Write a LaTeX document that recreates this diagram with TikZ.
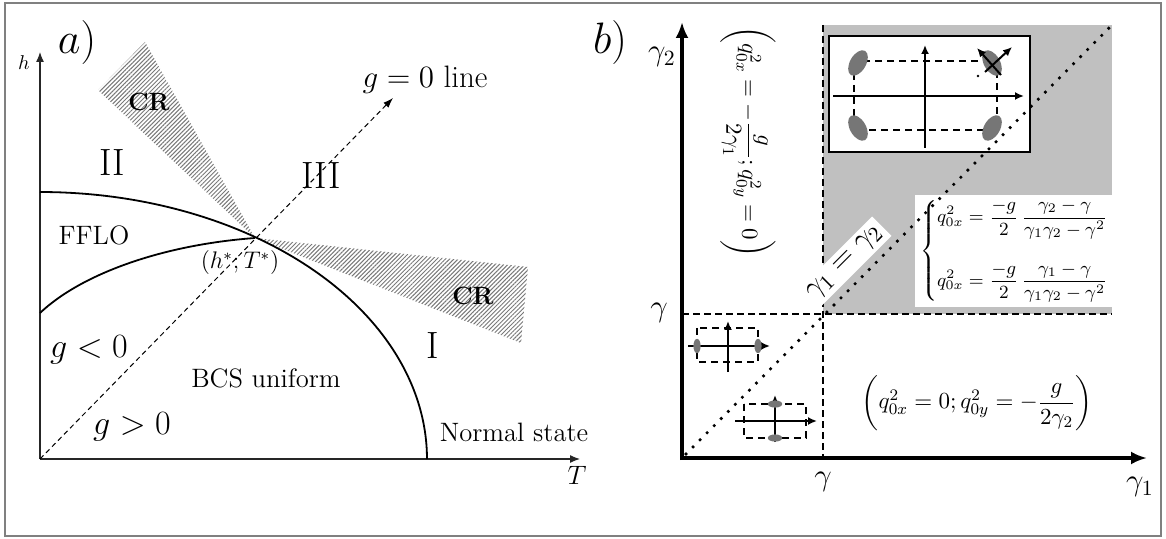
\RequirePackage{fix-cm}
\documentclass[tikz,border=0pt]{standalone}
\definecolor{framegray}{RGB}{128,128,128}
\definecolor{shadegray}{RGB}{192,192,192}
\definecolor{spotgray}{RGB}{118,118,118}
\definecolor{hatchgray}{RGB}{120,120,120}
\usepackage{amsmath,amssymb}
\usepackage{tikz}
\usetikzlibrary{arrows.meta,patterns.meta}

\begin{document}
\begin{tikzpicture}[x=0.5pt, y=-0.5pt,
    axl/.style={-{Latex[length=5pt,width=4pt]}, line width=0.6pt, black!85},
    axr/.style={-{Latex[length=8pt,width=6.5pt]}, line width=2pt},
    bound/.style={line width=0.9pt},
    guide/.style={line width=0.5pt, dash pattern=on 2.5pt off 1.8pt},
    guideR/.style={line width=0.7pt, dash pattern=on 3.5pt off 2pt},
    crwedge/.style={pattern={Lines[angle=45,distance=1.5pt,line width=0.5pt]}, pattern color=hatchgray},
    lab/.style={font=\fontsize{13.3}{16}\selectfont},
    roman/.style={font=\fontsize{19}{22}\selectfont},
    crlab/.style={font=\fontsize{12.5}{15}\selectfont\bfseries},
    glab/.style={font=\fontsize{17}{20}\selectfont},
    panel/.style={font=\fontsize{22}{26}\selectfont},
    glab2/.style={font=\fontsize{15.5}{18}\selectfont},
    formula/.style={font=\fontsize{11.5}{14}\selectfont},
    insax/.style={-{Latex[length=4.5pt,width=4pt]}, line width=1.3pt},
    insbox/.style={line width=0.9pt, dash pattern=on 3.5pt off 2.5pt},
    spot/.style={fill=spotgray},
  ]
    \useasboundingbox (0,0) rectangle (1166,539);
    \draw[framegray, line width=1pt] (5,3) rectangle (1161,536);

    % a) phase diagram
    \coordinate (O) at (40,459);
    \coordinate (tc) at (255,238);
    \fill[crwedge] (tc) -- (98,90) -- (145,42) -- cycle;
    \fill[crwedge] (tc) -- (528,267) -- (521,343) -- cycle;
    \draw[axl] (O) -- (40,52);
    \draw[axl] (O) -- (580,459);
    \draw[bound] plot[smooth, domain=-90:0, samples=60] ({40+387*cos(\x)}, {459+267*sin(\x)});
    \draw[bound] (40,313) .. controls (80,275) and (160,245) .. (tc);
    \draw[guide, -{Latex[length=5pt,width=3.5pt]}] (O) -- (393,98);

    \node[panel] (pa) at (77,43) {$a)$};
    \node[font=\fontsize{10}{12}\selectfont] (hlab) at (24,63) {$h$};
    \node[lab] (Tlab) at (577,475) {$T$};
    \node[font=\fontsize{15.5}{18}\selectfont] (gline) at (425,80) {$g=0$ line};
    \node[roman] (r2) at (112,163) {II};
    \node[roman] (r3) at (321,176) {III};
    \node[roman] (r1) at (433,346) {I};
    \node[crlab] (cr1) at (149,102) {CR};
    \node[crlab] (cr2) at (473,296) {CR};
    \node[lab] (fflo) at (94,235) {FFLO};
    \node[font=\fontsize{12}{14}\selectfont] (hstar) at (240,263) {$(h^*;T^*)$};
    \node[glab] (gneg) at (89,350) {$g<0$};
    \node[glab] (gpos) at (132,427) {$g>0$};
    \node[lab] (bcs) at (266,378) {BCS uniform};
    \node[lab] (normal) at (514,432) {Normal state};

    % b) gamma plane
    \fill[shadegray] (823,25) rectangle (1112,314);
    \draw[guideR] (823,25) -- (823,458);
    \draw[guideR] (682,314) -- (1112,314);
    \draw[axr] (682,460) -- (682,22);
    \draw[axr] (680,458) -- (1147,458);

    \node[panel] (pb) at (610,43) {$b)$};
    \node[glab2] (g2lab) at (662,57) {$\gamma_2$};
    \node[glab2] (gylab) at (659,313) {$\gamma$};
    \node[glab2] (gxlab) at (823,482) {$\gamma$};
    \node[glab2] (g1lab) at (1140,487) {$\gamma_1$};

    % inset, upper region
    \draw[fill=white, line width=0.8pt] (829,36) rectangle (1030,152);
    \draw[insbox] (854,61) rectangle (997,130);
    \draw[insax] (833,96) -- (1024,96);
    \draw[insax] (925,148) -- (925,45);
    \fill[spot, rotate around={60:(858,63)}] (858,63) ellipse [x radius=7pt, y radius=4pt];
    \fill[spot, rotate around={-60:(858,128)}] (858,128) ellipse [x radius=7pt, y radius=4pt];
    \fill[spot, rotate around={60:(992,128)}] (992,128) ellipse [x radius=7pt, y radius=4pt];
    \fill[spot, rotate around={-60:(992,63)}] (992,63) ellipse [x radius=7pt, y radius=4pt];
    \coordinate (sa) at (1001,75);
    \coordinate (sb) at (985,72);
    \draw[insax, line width=1pt] (sa) -- (977,48);
    \draw[insax, line width=1pt] (sb) -- (1012,47);
    \fill (978,76) circle (0.7pt);

    % insets, lower square
    \draw[insbox] (697,328) rectangle (758,362);
    \draw[insax] (688,346) -- (770,346);
    \draw[insax] (728,372) -- (728,321);
    \fill[spot] (697,346) ellipse [x radius=1.8pt, y radius=3.6pt];
    \fill[spot] (758,346) ellipse [x radius=1.8pt, y radius=3.6pt];
    \draw[insbox] (744,404) rectangle (806,438);
    \draw[insax] (735,421) -- (817,421);
    \draw[insax] (775,442) -- (775,395);
    \fill[spot] (775,404) ellipse [x radius=3.6pt, y radius=1.8pt];
    \fill[spot] (775,438) ellipse [x radius=3.6pt, y radius=1.8pt];

    % formulas
    \node[formula, rotate=-90] (qx) at (748,142)
      {$\left(q_{0x}^2=-\dfrac{g}{2\gamma_1};q_{0y}^2=0\right)$};
    \node[formula] (qy) at (977,403)
      {$\left(q_{0x}^2=0;q_{0y}^2=-\dfrac{g}{2\gamma_2}\right)$};
    \node[fill=white, inner sep=2.5pt, font=\fontsize{9.3}{11}\selectfont] (qxy) at (1015,251)
      {$\left\{\begin{array}{@{}l@{}}
        q_{0x}^2=\dfrac{-g}{2}\,\dfrac{\gamma_2-\gamma}{\gamma_1\gamma_2-\gamma^2}\\[17pt]
        q_{0x}^2=\dfrac{-g}{2}\,\dfrac{\gamma_1-\gamma}{\gamma_1\gamma_2-\gamma^2}
      \end{array}\right.$};
    \node[fill=white, rotate=45, inner sep=2pt, glab2] (diag) at (845,263) {$\gamma_1=\gamma_2$};

    \coordinate (d0) at (686,454);
    \coordinate (d1) at (1110,27);
    \draw[line width=1.8pt, line cap=round, dash pattern=on 0pt off 5pt] (d0) -- (d1);
  \end{tikzpicture}
\end{document}
